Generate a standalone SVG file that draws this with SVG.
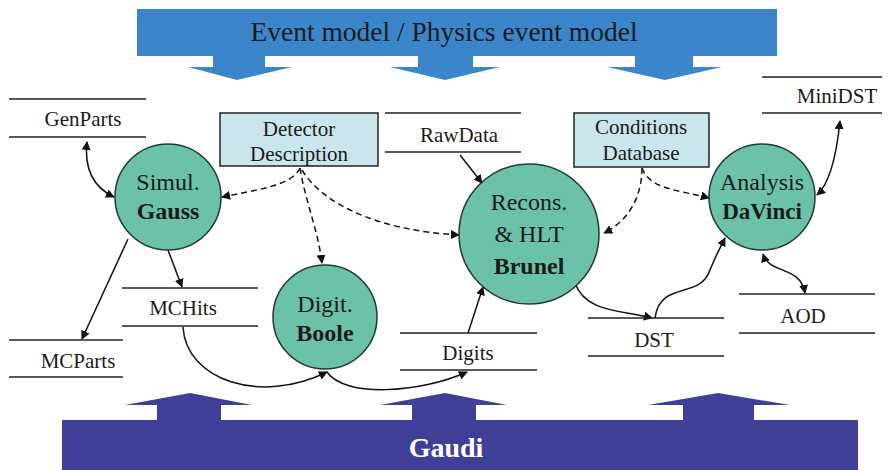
<svg xmlns="http://www.w3.org/2000/svg" width="888" height="470" viewBox="0 0 888 470">
<style>
text{fill:#1a1a1a;text-anchor:middle}
.b{font-weight:bold}
.circ{fill:#6cc2a8;stroke:#1f3a33;stroke-width:1.5}
.box{fill:#c9e6ec;stroke:#222;stroke-width:1.5}
.ln{stroke:#222;stroke-width:1.6}
.c{fill:none;stroke:#111;stroke-width:1.5}
.d{stroke-dasharray:6,4}
</style>
<defs>
<marker id="ah" viewBox="0 0 10 10" refX="9" refY="5" markerWidth="9" markerHeight="9" markerUnits="userSpaceOnUse" orient="auto-start-reverse"><path d="M0,0 L10,5 L0,10 z" fill="#111"/></marker>
</defs>
<rect width="888" height="470" fill="#fff"/>
<g id="event-model">
<rect x="137" y="9" width="640" height="47" fill="#3b86cb"/>
<path d="M213,55 h52 v12 h27 l-55,13 l-49,-13 h25 z" fill="#3b86cb"/>
<path d="M418,55 h55 v12 h27 l-55,13 l-55,-13 h28 z" fill="#3b86cb"/>
<path d="M635,55 h58 v12 h29 l-57,13 l-58,-13 h28 z" fill="#3b86cb"/>
<text x="444" y="41" font-family="Liberation Serif" font-size="27.5" fill="#13234a">Event model / Physics event model</text>
</g>
<g id="gaudi">
<rect x="62" y="420" width="796" height="50" fill="#3f3f98"/>
<path d="M157,421 v-16 h-32 l65,-12 l62,12 h-31 v16 z" fill="#3f3f98"/>
<path d="M412,421 v-16 h-32 l65,-12 l62,12 h-31 v16 z" fill="#3f3f98"/>
<path d="M683,421 v-16 h-35 l70,-12 l72,12 h-36 v16 z" fill="#3f3f98"/>
<text x="446" y="457" class="b" font-family="Liberation Serif" font-size="28" style="fill:#fff">Gaudi</text>
</g>
<g id="connectors">
<path class="c" d="M87,142 C84,170 95,188 114,197" marker-start="url(#ah)" marker-end="url(#ah)"/>
<path class="c d" d="M300,168 C292,186 255,190 222,197" marker-end="url(#ah)"/>
<path class="c d" d="M300,168 C305,200 318,230 322,263" marker-end="url(#ah)"/>
<path class="c d" d="M302,170 C320,200 370,230 459,235" marker-end="url(#ah)"/>
<path class="c" d="M460,155 L482,183" marker-end="url(#ah)"/>
<path class="c d" d="M642,168 C642,195 630,220 604,233" marker-end="url(#ah)"/>
<path class="c d" d="M642,168 C650,190 680,190 709,198" marker-end="url(#ah)"/>
<path class="c" d="M840,121 C836,160 828,185 817,195" marker-start="url(#ah)" marker-end="url(#ah)"/>
<path class="c" d="M763,254 C770,275 800,265 805,293" marker-start="url(#ah)" marker-end="url(#ah)"/>
<path class="c" d="M575,283 C585,312 620,310 652,318" marker-end="url(#ah)"/>
<path class="c" d="M655,318 C660,280 700,300 710,270 C716,255 720,248 725,238" marker-end="url(#ah)"/>
<path class="c" d="M168,250 L182,287" marker-end="url(#ah)"/>
<path class="c" d="M128,239 L82,339" marker-end="url(#ah)"/>
<path class="c" d="M183,327 C186,380 260,405 327,372" marker-end="url(#ah)"/>
<path class="c" d="M327,372 C345,398 420,393 467,372" marker-end="url(#ah)"/>
<path class="c" d="M468,333 L483,287" marker-end="url(#ah)"/>
</g>
<g id="genparts">
<line class="ln" x1="9" y1="99" x2="146" y2="99"/><line class="ln" x1="9" y1="137" x2="146" y2="137"/>
<text font-family="Liberation Serif" font-size="21" x="83" y="126">GenParts</text>
</g>
<g id="gauss">
<circle class="circ" cx="168" cy="197" r="53"/>
<text font-family="Liberation Serif" font-size="24" x="168" y="190">Simul.</text>
<text class="b" font-family="Liberation Serif" font-size="24" x="168" y="219">Gauss</text>
</g>
<g id="detector">
<rect class="box" x="220" y="113" width="158" height="53"/>
<text font-family="Liberation Serif" font-size="21" x="299" y="136">Detector</text>
<text font-family="Liberation Serif" font-size="21" x="299" y="161">Description</text>
</g>
<g id="rawdata">
<line class="ln" x1="385" y1="113" x2="521" y2="113"/><line class="ln" x1="385" y1="152" x2="521" y2="152"/>
<text font-family="Liberation Serif" font-size="21" x="459" y="142">RawData</text>
</g>
<g id="brunel">
<circle class="circ" cx="529" cy="234" r="70"/>
<text font-family="Liberation Serif" font-size="24" x="529" y="210">Recons.</text>
<text font-family="Liberation Serif" font-size="24" x="529" y="242">&amp; HLT</text>
<text class="b" font-family="Liberation Serif" font-size="24" x="529" y="274">Brunel</text>
</g>
<g id="conditions">
<rect class="box" x="574" y="113" width="135" height="54"/>
<text font-family="Liberation Serif" font-size="21" x="641" y="134">Conditions</text>
<text font-family="Liberation Serif" font-size="21" x="641" y="160">Database</text>
</g>
<g id="minidst">
<line class="ln" x1="762" y1="77" x2="882" y2="77"/><line class="ln" x1="762" y1="113" x2="882" y2="113"/>
<text font-family="Liberation Serif" font-size="21" x="837" y="103">MiniDST</text>
</g>
<g id="davinci">
<circle class="circ" cx="762" cy="197" r="53"/>
<text font-family="Liberation Serif" font-size="24" x="762" y="190">Analysis</text>
<text class="b" font-family="Liberation Serif" font-size="23" x="762" y="219">DaVinci</text>
</g>
<g id="boole">
<circle class="circ" cx="325" cy="317" r="52"/>
<text font-family="Liberation Serif" font-size="24" x="325" y="312">Digit.</text>
<text class="b" font-family="Liberation Serif" font-size="24" x="325" y="341">Boole</text>
</g>
<g id="mchits">
<line class="ln" x1="122" y1="288" x2="258" y2="288"/><line class="ln" x1="122" y1="326" x2="258" y2="326"/>
<text font-family="Liberation Serif" font-size="21" x="183" y="315">MCHits</text>
</g>
<g id="mcparts">
<line class="ln" x1="9" y1="340" x2="123" y2="340"/><line class="ln" x1="9" y1="377" x2="123" y2="377"/>
<text font-family="Liberation Serif" font-size="21" x="78" y="368">MCParts</text>
</g>
<g id="digits">
<line class="ln" x1="400" y1="333" x2="537" y2="333"/><line class="ln" x1="400" y1="370" x2="537" y2="370"/>
<text font-family="Liberation Serif" font-size="21" x="468" y="360">Digits</text>
</g>
<g id="dst">
<line class="ln" x1="588" y1="318" x2="724" y2="318"/><line class="ln" x1="588" y1="356" x2="724" y2="356"/>
<text font-family="Liberation Serif" font-size="21" x="654" y="347">DST</text>
</g>
<g id="aod">
<line class="ln" x1="739" y1="294" x2="875" y2="294"/><line class="ln" x1="739" y1="333" x2="875" y2="333"/>
<text font-family="Liberation Serif" font-size="21" x="803" y="323">AOD</text>
</g>
</svg>
